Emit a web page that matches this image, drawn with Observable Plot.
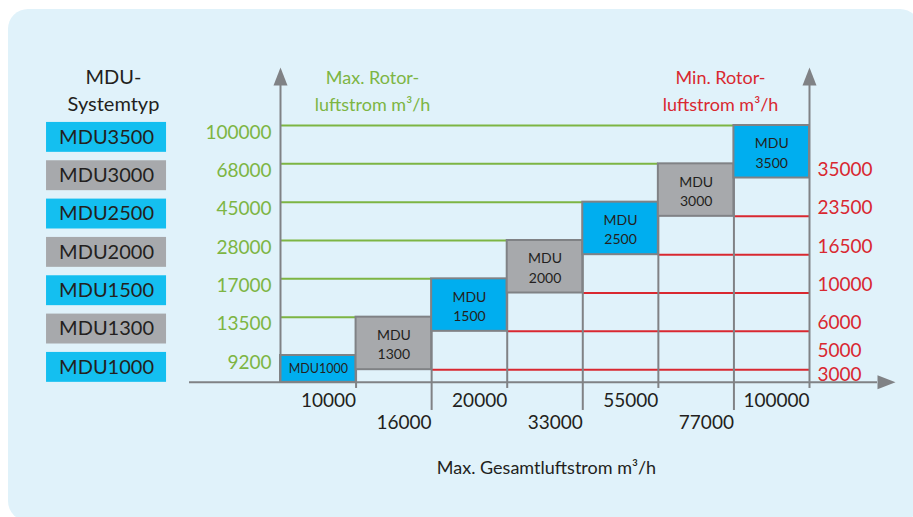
<!DOCTYPE html>
<html>
<head>
<meta charset="utf-8">
<script src="https://cdn.jsdelivr.net/npm/d3@7"></script>
<script src="https://cdn.jsdelivr.net/npm/@observablehq/plot@0.6"></script>
<style>
  html, body { margin: 0; padding: 0; background: #ffffff; }
  #wrap { position: relative; width: 913px; height: 517px; overflow: hidden; }
  #panel { position: absolute; left: 8px; top: 9px; width: 912px; height: 512px; border-radius: 20px; background: #e0f2fa; }
  #chart { position: absolute; left: 0; top: 0; }
</style>
</head>
<body>
<div id="wrap"><div id="panel"></div><div id="chart"></div></div>
<script>
// ---- data ----
const models = ["MDU1000", "MDU1300", "MDU1500", "MDU2000", "MDU2500", "MDU3000", "MDU3500"];
const maxTotal = [10000, 16000, 20000, 33000, 55000, 77000, 100000];   // Max. Gesamtluftstrom m³/h
const maxRotor = [9200, 13500, 17000, 28000, 45000, 68000, 100000];    // Max. Rotorluftstrom m³/h
const minRotor = [3000, 5000, 6000, 10000, 16500, 23500, 35000];       // Min. Rotorluftstrom m³/h

// ---- styles ----
const GREEN = "#7db543", RED = "#d92830", GRAY = "#808285", INK = "#231f20";
const BLUE = "#00aeef", LEGBLUE = "#14bff0", BOXGRAY = "#a7a9ac";
const FONT = "Lato, 'Open Sans', sans-serif";

// ---- layout (scale units: x = column index, y = step level) ----
const AXIS = 0.3;          // level of the horizontal axis
const BOXH = 1.37;         // box height in levels
const N = models.length;
const idx = d3.range(N);
const fillOf = i => (i % 2 === 0 ? BLUE : BOXGRAY);
const lvlTop = i => i + 1;
const lvlBottom = i => (i === 0 ? AXIS : i + 1 - BOXH);

const arrowHead = {
  draw(ctx, size) {
    const k = Math.sqrt(size / Math.PI) / 10;
    ctx.moveTo(0, -18 * k);
    ctx.lineTo(7 * k, 0);
    ctx.lineTo(-7 * k, 0);
    ctx.closePath();
  }
};

const chart = Plot.plot({
  width: 913,
  height: 517,
  margin: 0,
  style: { background: "transparent", fontFamily: FONT, overflow: "visible" },
  x: { type: "linear", domain: [0, N], range: [280, 809], axis: null },
  y: { type: "linear", domain: [0, 7], range: [393.33, 125], axis: null },
  marks: [
    // legend
    Plot.text(["MDU-\nSystemtyp"], { frameAnchor: "top-left", dx: 113, dy: 88, textAnchor: "middle", lineAnchor: "middle", lineHeight: 1.35, fontSize: 20, fill: INK }),
    Plot.rect(idx, { x1: () => -3.096, x2: () => -1.508, y1: i => i + AXIS, y2: i => i + 1.08, fill: i => (i % 2 === 0 ? LEGBLUE : BOXGRAY) }),
    Plot.text(idx, { x: () => -2.302, y: i => i + 0.69, text: i => models[i], fontSize: 20, fill: INK }),

    // axis titles
    Plot.text(["Max. Rotor-\nluftstrom m³/h"], { frameAnchor: "top-left", dx: 372, dy: 88, textAnchor: "middle", lineAnchor: "middle", lineHeight: 1.5, fontSize: 18, fill: GREEN }),
    Plot.text(["Min. Rotor-\nluftstrom m³/h"], { frameAnchor: "top-left", dx: 720, dy: 88, textAnchor: "middle", lineAnchor: "middle", lineHeight: 1.5, fontSize: 18, fill: RED }),
    Plot.text(["Max. Gesamtluftstrom m³/h"], { frameAnchor: "top-left", dx: 546, dy: 468, textAnchor: "middle", lineAnchor: "middle", fontSize: 18, fill: INK }),

    // green max-rotor lines
    Plot.ruleY(idx.filter(i => i > 0), { y: lvlTop, x1: () => 0, x2: i => i, stroke: GREEN, strokeWidth: 2 }),
    // red min-rotor lines
    Plot.ruleY(idx.filter(i => i > 0), { y: lvlBottom, x1: i => i + 1, x2: () => N, stroke: RED, strokeWidth: 2 }),

    // vertical column lines with ticks below the axis
    Plot.ruleX(d3.range(1, N), { x: k => k, y1: k => k + 1, y2: k => (k % 2 === 1 ? 0.14 : -0.434), stroke: GRAY, strokeWidth: 2 }),

    // boxes
    Plot.rect(idx, { x1: i => i, x2: i => i + 1, y1: lvlBottom, y2: lvlTop, fill: fillOf, stroke: GRAY, strokeWidth: 2 }),
    Plot.text(idx.filter(i => i > 0), { x: i => i + 0.5, y: i => (lvlTop(i) + lvlBottom(i)) / 2, text: i => "MDU\n" + models[i].slice(3), fontSize: 14, lineHeight: 1.4, fill: INK }),
    Plot.text([0], { x: i => i + 0.5, y: i => (lvlTop(i) + lvlBottom(i)) / 2, text: i => models[i], fontSize: 12.5, fill: INK }),

    // axes
    Plot.ruleX([0, N], { x: d => d, y1: () => AXIS, y2: () => 8.044, stroke: GRAY, strokeWidth: 2 }),
    Plot.ruleX([N], { x: d => d, y1: () => 0.14, y2: () => AXIS, stroke: GRAY, strokeWidth: 2 }),
    Plot.ruleY([AXIS], { y: d => d, x1: () => -1.204, x2: () => 7.9, stroke: GRAY, strokeWidth: 2 }),
    Plot.dot([0, N], { x: d => d, y: () => 8.044, symbol: arrowHead, r: 10, fill: GRAY, stroke: "none" }),
    Plot.dot([0], { x: () => 7.9, y: () => AXIS, symbol: arrowHead, r: 10, rotate: 90, fill: GRAY, stroke: "none" }),

    // tick labels: max rotor (green, left)
    Plot.text(idx, { x: () => 0, y: lvlTop, text: i => String(maxRotor[i]), dx: -9, dy: 7, textAnchor: "end", fontSize: 19, fill: GREEN }),
    // tick labels: min rotor (red, right)
    Plot.text(idx.filter(i => i > 1), { x: () => N, y: lvlBottom, text: i => String(minRotor[i]), dx: 8, dy: -8, textAnchor: "start", fontSize: 19, fill: RED }),
    Plot.text([1], { x: () => N, y: lvlBottom, text: i => String(minRotor[i]), dx: 8, dy: -19, textAnchor: "start", fontSize: 19, fill: RED }),
    Plot.text([0], { x: () => N, y: lvlBottom, text: i => String(minRotor[i]), dx: 8, dy: -7, textAnchor: "start", fontSize: 19, fill: RED }),
    // tick labels: max total (black, bottom)
    Plot.text(idx.filter(i => i % 2 === 0), { x: i => i + 1, y: () => AXIS, text: i => String(maxTotal[i]), dy: 19, textAnchor: "end", fontSize: 19, fill: INK }),
    Plot.text(idx.filter(i => i % 2 === 1), { x: i => i + 1, y: () => AXIS, text: i => String(maxTotal[i]), dy: 41, textAnchor: "end", fontSize: 19, fill: INK })
  ]
});
document.getElementById("chart").appendChild(chart);
</script>
</body>
</html>
